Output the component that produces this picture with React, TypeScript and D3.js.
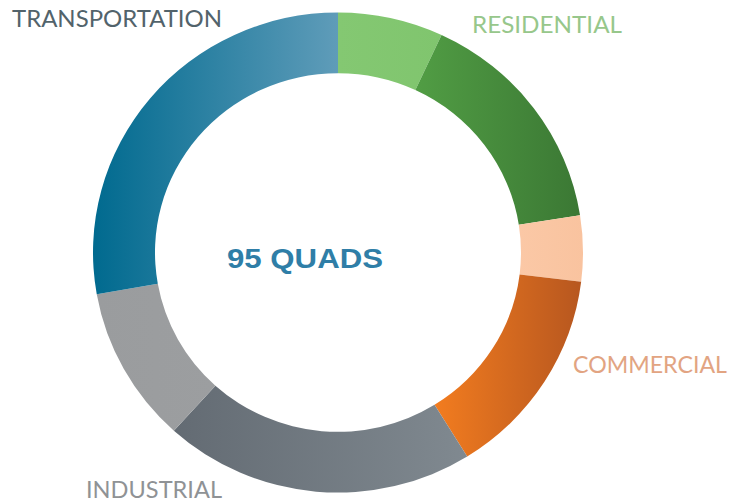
import { useEffect, useRef } from 'react';
import * as d3 from 'd3';

// quads per segment, clockwise from 12 o'clock
const segments = ['Residential A', 'Residential B', 'Commercial A', 'Commercial B', 'Industrial A', 'Industrial B', 'Transportation'];
const quads = [6.6, 14.8, 4.2, 13.5, 19.5, 10.0, 26.4];
const gradStops = [
  ['#84c872', '#80c56e'],
  ['#519d44', '#3b7834'],
  ['#fbc8a6', '#f9c39f'],
  ['#f27c1f', '#b7571f'],
  ['#636b73', '#808990'],
  ['#9a9c9e', '#9c9ea0'],
  ['#006a8f', '#5f9cb9'],
];

const labels = ['TRANSPORTATION', 'RESIDENTIAL', 'COMMERCIAL', 'INDUSTRIAL'];
const labelColors = ['#52636b', '#97c78b', '#e2a482', '#8f9295'];
const labelPos = [[12, 27, 210], [472, 33, 150], [573, 373, 154], [86, 498, 136]];
const total = '95 QUADS';

export default function App() {
  const svgRef = useRef(null);
  const width = 730;
  const height = 503;

  useEffect(() => {
    const svg = d3.select(svgRef.current);
    svg.selectAll('*').remove();

    const defs = svg.append('defs');
    gradStops.forEach((stops, i) => {
      const lg = defs.append('linearGradient')
        .attr('id', `seg-${i}`)
        .attr('x1', '0%').attr('x2', '100%')
        .attr('y1', '0%').attr('y2', '0%');
      lg.append('stop').attr('offset', '0%').attr('stop-color', stops[0]);
      lg.append('stop').attr('offset', '100%').attr('stop-color', stops[1]);
    });

    const pie = d3.pie().sort(null).value(d => d)(quads);
    const arc = d3.arc().innerRadius(183).outerRadius(245);

    const g = svg.append('g')
      .attr('transform', 'translate(338,252.5) scale(1,0.98)');

    g.selectAll('path.seg')
      .data(pie)
      .join('path')
      .attr('class', 'seg')
      .attr('d', arc)
      .attr('fill', (d, i) => `url(#seg-${i})`);

    labels.forEach((t, i) => {
      const [x, y, w] = labelPos[i];
      svg.append('text')
        .attr('x', x)
        .attr('y', y)
        .attr('fill', labelColors[i])
        .attr('textLength', w)
        .attr('lengthAdjust', 'spacingAndGlyphs')
        .style('font-family', 'Lato, sans-serif')
        .style('font-weight', '400')
        .style('font-size', '23px')
        .text(t);
    });

    svg.append('text')
      .attr('x', 305)
      .attr('y', 268)
      .attr('text-anchor', 'middle')
      .attr('fill', '#2f7ea7')
      .attr('textLength', 156)
      .attr('lengthAdjust', 'spacingAndGlyphs')
      .style('font-family', '"Liberation Sans", Arial, sans-serif')
      .style('font-weight', '700')
      .style('font-size', '28px')
      .text(total);
  }, []);

  return (
    <div style={{ position: 'fixed', left: 0, top: 0, background: '#fff' }}>
      <svg ref={svgRef} width={width} height={height} style={{ display: 'block' }}></svg>
    </div>
  );
}
